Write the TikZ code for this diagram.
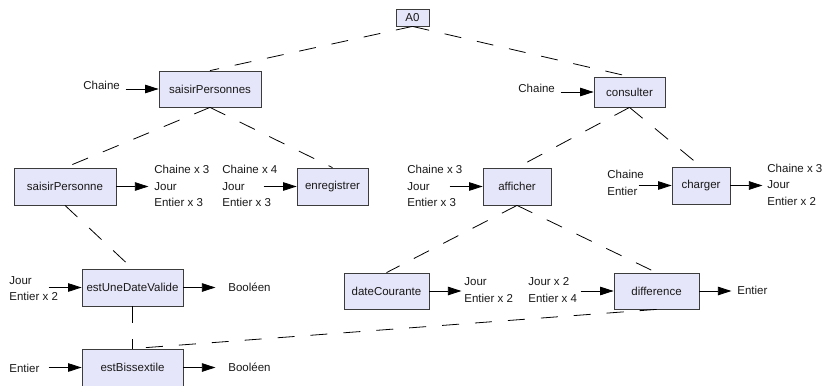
\documentclass[tikz,border=0pt]{standalone}
\usepackage{fontspec}
\setmainfont{Liberation Sans}
\usetikzlibrary{arrows.meta}
\definecolor{boxfill}{RGB}{230,230,250}
\definecolor{boxline}{RGB}{60,60,60}

\begin{document}
\begin{tikzpicture}[x=1pt, y=-1pt, line width=0.8pt,
  every node/.style={font=\fontsize{11.5}{16.5}\selectfont, text=black!90},
  fn/.style={draw=boxline, fill=boxfill, inner sep=0pt, minimum height=37},
  lbl/.style={anchor=west, align=left, inner sep=0pt},
  flow/.style={-{Triangle[length=13.5pt, width=8.5pt]}},
  link/.style={dash pattern=on 17pt off 16pt},
]
  \useasboundingbox (0,0) rectangle (826,385);
  % boxes of the tree
  \node[fn, minimum width=33, minimum height=17] (a0) at (412.5,17.5) {A0};
  \node[fn, minimum width=102, minimum height=36] (sps) at (210,89) {saisirPersonnes};
  \node[fn, minimum width=71, minimum height=30] (con) at (629.5,92) {consulter};
  \node[fn, minimum width=102] (spe) at (65,186.5) {saisirPersonne};
  \node[fn, minimum width=71] (enr) at (332.5,186.5) {enregistrer};
  \node[fn, minimum width=68] (aff) at (517,186.5) {afficher};
  \node[fn, minimum width=58] (chg) at (701,185.5) {charger};
  \node[fn, minimum width=101] (est) at (132.5,287.5) {estUneDateValide};
  \node[fn, minimum width=101] (bis) at (132.5,367.5) {estBissextile};
  \node[fn, minimum width=85, minimum height=36] (dat) at (386.5,291) {dateCourante};
  \node[fn, minimum width=85, minimum height=36] (dif) at (656.5,291) {difference};

  \foreach \a/\b in {a0/sps, a0/con, sps/spe, sps/enr, con/aff, con/chg,
                     aff/dat, aff/dif, spe/est, est/bis, dif/bis}
    \draw[link] (\a.south) -- (\b.north);

  % data going in
  \node[lbl] (inSps) at (83,85) {Chaine};
  \node[lbl] (inCon) at (518,88) {Chaine};
  \node[lbl] (inEnr) at (222,186) {Chaine x 4\\Jour\\Entier x 3};
  \node[lbl] (inAff) at (407,186) {Chaine x 3\\Jour\\Entier x 3};
  \node[lbl] (inChg) at (607,183) {Chaine\\Entier};
  \node[lbl] (inEst) at (9,288.5) {Jour\\Entier x 2};
  \node[lbl] (inBis) at (9,368) {Entier};
  \node[lbl] (inDif) at (528,290) {Jour x 2\\Entier x 4};
  \foreach \b in {sps, con, enr, aff, chg, est, bis, dif}
    \draw[flow] ([xshift=-33pt]\b.west) -- (\b.west);

  % data going out
  \node[lbl] (outSpe) at (154,186) {Chaine x 3\\Jour\\Entier x 3};
  \node[lbl] (outChg) at (767,184.5) {Chaine x 3\\Jour\\Entier x 2};
  \node[lbl] (outEst) at (228,287) {Booléen};
  \node[lbl] (outBis) at (228,367) {Booléen};
  \node[lbl] (outDat) at (464,290) {Jour\\Entier x 2};
  \node[lbl] (outDif) at (737,290) {Entier};
  \foreach \b in {spe, chg, est, bis, dat, dif}
    \draw[flow] (\b.east) -- ([xshift=32pt]\b.east);
\end{tikzpicture}
\end{document}
